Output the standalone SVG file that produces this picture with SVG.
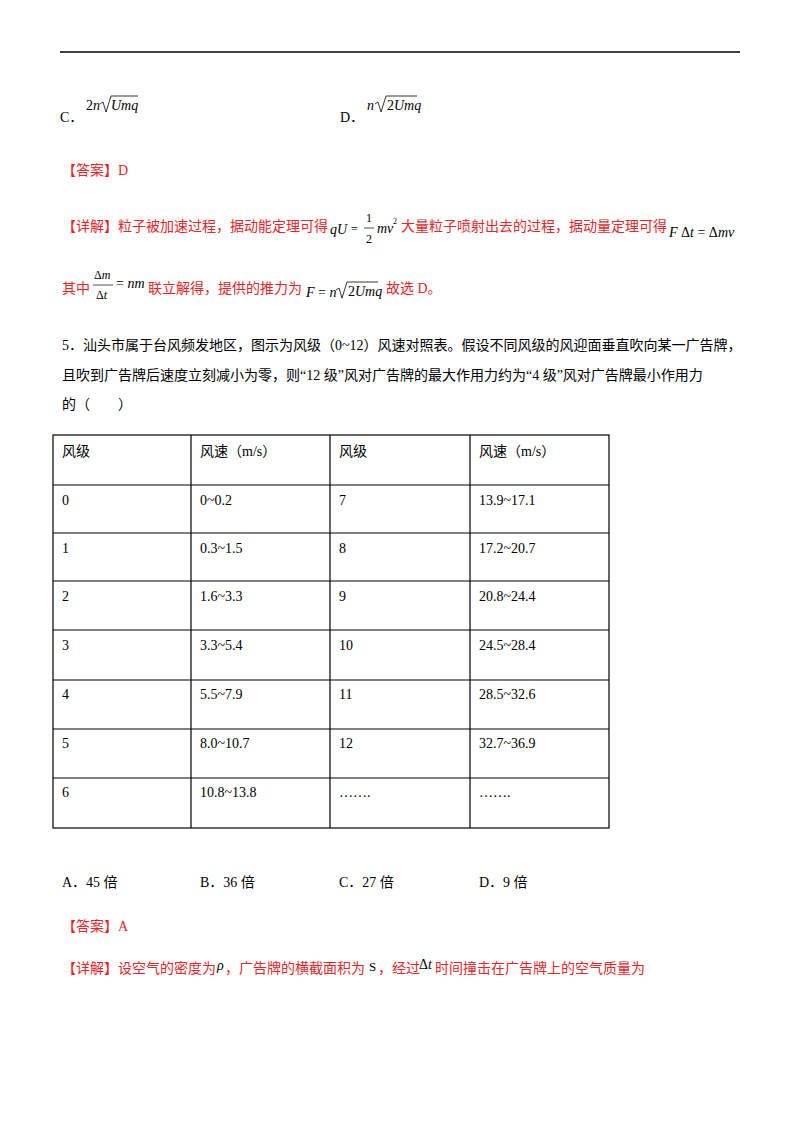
<svg xmlns="http://www.w3.org/2000/svg" width="800" height="1132" viewBox="0 0 800 1132">
<style>
text{font-family:"Liberation Serif","Noto Sans CJK SC",serif;font-size:14px;fill:#000}
.r{fill:#e8252a}
.m{font-family:"Liberation Serif",serif;font-style:italic;font-size:14px}
.s{font-family:"Liberation Serif",serif;font-size:12px}
.sup{font-family:"Liberation Serif",serif;font-size:8px}
.rt{stroke:#000;stroke-width:0.8;fill:none}
.t{stroke:#000;stroke-width:1.2;fill:none}
</style>
<rect width="800" height="1132" fill="#fff"/>
<line x1="60" y1="52" x2="740" y2="52" stroke="#000" stroke-width="1.5"/>
<text x="60" y="122">C．</text>
<text x="86" y="110" class="m"><tspan font-style="normal">2</tspan>n</text>
<path class="rt" d="M100 104 L103 102 L106 112 L111 96 L138 96"/>
<text x="111" y="110" class="m">Umq</text>
<text x="340" y="122">D．</text>
<text x="367" y="110" class="m">n</text>
<path class="rt" d="M375 104 L378 102 L381 112 L386 96 L417 96"/>
<text x="387" y="110" class="m"><tspan font-style="normal">2</tspan>Umq</text>
<text x="62" y="175" class="r">【答案】D</text>
<text x="62" y="231" class="r">【详解】粒子被加速过程，据动能定理可得</text>
<text x="330" y="234" class="m">qU</text><text x="351" y="233" class="s">=</text>
<text x="366" y="222" class="s">1</text><line x1="364" y1="228" x2="374" y2="228" stroke="#000" stroke-width="0.7"/><text x="366" y="243" class="s">2</text>
<text x="377" y="233" class="m">mv</text><text x="393" y="224" class="sup">2</text>
<text x="401" y="231" class="r">大量粒子喷射出去的过程，据动量定理可得</text>
<text x="669" y="237" class="m">F <tspan font-style="normal">Δ</tspan>t <tspan font-style="normal">= Δ</tspan>mv</text>
<text x="62" y="293" class="r">其中</text>
<text x="94" y="279" class="s">Δ<tspan font-style="italic">m</tspan></text><line x1="93" y1="285" x2="113" y2="285" stroke="#000" stroke-width="0.7"/><text x="96" y="299" class="s">Δ<tspan font-style="italic">t</tspan></text>
<text x="116" y="288" class="m"><tspan font-style="normal">=</tspan> nm</text>
<text x="148" y="293" class="r">联立解得，提供的推力为</text>
<text x="306" y="297" class="m">F <tspan font-style="normal">=</tspan> n</text>
<path class="rt" d="M336 290 L339 288 L342 298 L347 282 L378 282"/>
<text x="348" y="296" class="m"><tspan font-style="normal">2</tspan>Umq</text>
<text x="386" y="293" class="r">故选 D。</text>
<text x="62" y="350">5．汕头市属于台风频发地区，图示为风级（0~12）风速对照表。假设不同风级的风迎面垂直吹向某一广告牌，</text>
<text x="62" y="380">且吹到广告牌后速度立刻减小为零，则“12 级”风对广告牌的最大作用力约为“4 级”风对广告牌最小作用力</text>
<text x="62" y="409">的（　　）</text>
<g id="table">
<rect class="t" x="53" y="435" width="556" height="393"/>
<path class="t" d="M191 435V828M330 435V828M470 435V828M53 485H609M53 533H609M53 581H609M53 630H609M53 680H609M53 729H609M53 778H609"/>
</g>
<g id="cells">
<text x="62" y="456">风级</text><text x="200" y="456">风速（m/s）</text><text x="339" y="456">风级</text><text x="479" y="456">风速（m/s）</text>
<text x="62" y="505">0</text><text x="200" y="505">0~0.2</text><text x="339" y="505">7</text><text x="479" y="505">13.9~17.1</text>
<text x="62" y="553">1</text><text x="200" y="553">0.3~1.5</text><text x="339" y="553">8</text><text x="479" y="553">17.2~20.7</text>
<text x="62" y="601">2</text><text x="200" y="601">1.6~3.3</text><text x="339" y="601">9</text><text x="479" y="601">20.8~24.4</text>
<text x="62" y="650">3</text><text x="200" y="650">3.3~5.4</text><text x="339" y="650">10</text><text x="479" y="650">24.5~28.4</text>
<text x="62" y="699">4</text><text x="200" y="699">5.5~7.9</text><text x="339" y="699">11</text><text x="479" y="699">28.5~32.6</text>
<text x="62" y="748">5</text><text x="200" y="748">8.0~10.7</text><text x="339" y="748">12</text><text x="479" y="748">32.7~36.9</text>
<text x="62" y="797">6</text><text x="200" y="797">10.8~13.8</text><text x="339" y="797">…….</text><text x="479" y="797">…….</text>
</g>
<text x="62" y="887">A．45 倍</text><text x="200" y="887">B．36 倍</text><text x="339" y="887">C．27 倍</text><text x="479" y="887">D．9 倍</text>
<text x="62" y="931" class="r">【答案】A</text>
<text x="62" y="973" class="r">【详解】设空气的密度为</text>
<text x="217" y="970" class="m">ρ</text>
<text x="225" y="973" class="r">，广告牌的横截面积为</text>
<text x="369" y="971" class="s" style="font-size:13px">S</text>
<text x="378" y="973" class="r">，经过</text>
<text x="419" y="969" class="m"><tspan font-style="normal">Δ</tspan>t</text>
<text x="435" y="973" class="r">时间撞击在广告牌上的空气质量为</text>
</svg>
